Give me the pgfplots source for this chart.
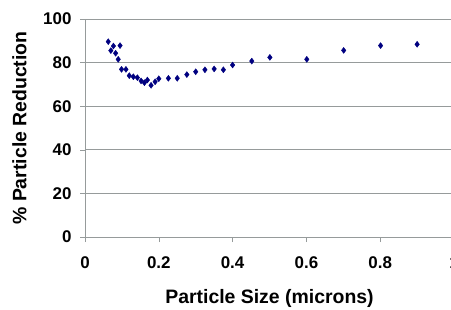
\documentclass[border=0pt]{standalone}
\usepackage{pgfplots}
\pgfplotsset{compat=1.18}
\usepackage{fontspec}
\setmainfont{Liberation Sans}
\definecolor{ptnavy}{RGB}{0,0,128}
\definecolor{gridgray}{RGB}{150,155,155}
\begin{document}
\begin{tikzpicture}[x=1bp,y=1bp]
\path[use as bounding box] (-85,-72) rectangle (366,237);
\begin{axis}[
  at={(0,0)}, anchor=south west,
  scale only axis, width=369bp, height=218bp,
  xmin=0, xmax=1, ymin=0, ymax=100,
  axis lines=left,
  axis line style={gridgray, -},
  xtick={0,0.2,0.4,0.6,0.8,1},
  ytick={0,20,40,60,80,100},
  xticklabels={0,0.2,0.4,0.6,0.8,1},
  ymajorgrids,
  grid style={gridgray, line width=0.8pt},
  tick align=outside,
  tick style={gridgray, line width=0.6pt},
  major tick length=5bp,
  ticklabel style={font=\bfseries\fontsize{17}{17}\selectfont},
  xticklabel style={yshift=-11bp},
  yticklabel style={xshift=-5bp},
  /pgf/number format/assume math mode=true,
  xlabel={Particle Size (microns)},
  ylabel={\% Particle Reduction},
  label style={font=\bfseries\fontsize{19.5}{19.5}\selectfont},
  xlabel style={at={(axis description cs:0.5,-0.283)}, anchor=center},
  ylabel style={at={(axis description cs:-0.178,0.5)}, anchor=center, rotate=0},
  clip=false,
]
\addplot[only marks, mark=diamond*, mark size=3pt, color=ptnavy] coordinates {
(0.063,89.6) (0.070,85.5) (0.077,87.6) (0.083,84.3) (0.095,87.8)
(0.090,81.5) (0.099,76.9) (0.111,76.9) (0.120,74.0) (0.131,73.5)
(0.142,73.1) (0.152,71.6) (0.161,70.8) (0.169,72.0) (0.179,69.6)
(0.190,71.2) (0.200,72.6) (0.226,72.8) (0.250,72.8) (0.276,74.5)
(0.300,75.8) (0.325,76.7) (0.350,77.1) (0.375,76.7) (0.400,78.9)
(0.452,80.7) (0.501,82.4) (0.601,81.5) (0.701,85.6) (0.801,87.8)
(0.900,88.4)
};
\end{axis}
\end{tikzpicture}
\end{document}
